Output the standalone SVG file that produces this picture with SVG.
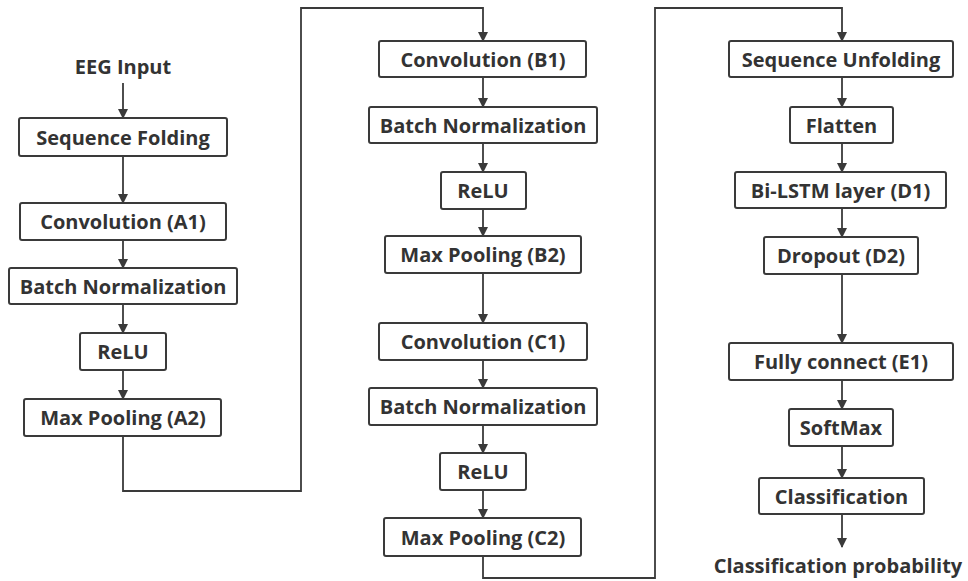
<svg xmlns="http://www.w3.org/2000/svg" width="968" height="581" viewBox="0 0 968 581">
  <style>
    .box { fill: #ffffff; stroke: #3a3a3a; stroke-width: 2; }
    .lbl { font-family: "Open Sans", "Noto Sans", "DejaVu Sans", sans-serif; font-weight: 700; font-size: 20px; fill: #333333; text-anchor: middle; dominant-baseline: central; }
    .wire { fill: none; stroke: #3a3a3a; stroke-width: 1.8; }
  </style>
  <defs>
    <marker id="arrow" markerUnits="userSpaceOnUse" markerWidth="10" markerHeight="12" refX="9" refY="5" orient="auto">
      <path d="M0,0 L10,5 L0,10 Z" fill="#3a3a3a"/>
    </marker>
  </defs>
  <rect width="968" height="581" fill="#ffffff"/>

  <!-- connectors -->
  <g id="connectors">
    <line class="wire" x1="123" y1="83" x2="123" y2="118" marker-end="url(#arrow)"/>
    <line class="wire" x1="123" y1="156" x2="123" y2="203" marker-end="url(#arrow)"/>
    <line class="wire" x1="123" y1="240" x2="123" y2="268" marker-end="url(#arrow)"/>
    <line class="wire" x1="123" y1="304" x2="123" y2="333" marker-end="url(#arrow)"/>
    <line class="wire" x1="123" y1="370" x2="123" y2="399" marker-end="url(#arrow)"/>
    <path class="wire" d="M123,436 V491 H301 V8 H483 V41" marker-end="url(#arrow)"/>
    <line class="wire" x1="483" y1="77" x2="483" y2="107" marker-end="url(#arrow)"/>
    <line class="wire" x1="483" y1="143" x2="483" y2="172" marker-end="url(#arrow)"/>
    <line class="wire" x1="483" y1="209" x2="483" y2="236" marker-end="url(#arrow)"/>
    <line class="wire" x1="483" y1="273" x2="483" y2="323" marker-end="url(#arrow)"/>
    <line class="wire" x1="483" y1="360" x2="483" y2="388" marker-end="url(#arrow)"/>
    <line class="wire" x1="483" y1="425" x2="483" y2="453" marker-end="url(#arrow)"/>
    <line class="wire" x1="483" y1="490" x2="483" y2="518" marker-end="url(#arrow)"/>
    <path class="wire" d="M483,556 V578 H655 V8 H842 V41" marker-end="url(#arrow)"/>
    <line class="wire" x1="842" y1="77" x2="842" y2="107" marker-end="url(#arrow)"/>
    <line class="wire" x1="842" y1="143" x2="842" y2="172" marker-end="url(#arrow)"/>
    <line class="wire" x1="842" y1="208" x2="842" y2="237" marker-end="url(#arrow)"/>
    <line class="wire" x1="842" y1="274" x2="842" y2="343" marker-end="url(#arrow)"/>
    <line class="wire" x1="842" y1="380" x2="842" y2="409" marker-end="url(#arrow)"/>
    <line class="wire" x1="842" y1="446" x2="842" y2="478" marker-end="url(#arrow)"/>
    <line class="wire" x1="842" y1="514" x2="842" y2="547" marker-end="url(#arrow)"/>
  </g>

  <!-- column A -->
  <g id="eeg-input"><text class="lbl" x="123" y="66">EEG Input</text></g>
  <g id="sequence-folding"><rect class="box" x="19" y="118" width="208" height="38" rx="2"/><text class="lbl" x="123" y="137">Sequence Folding</text></g>
  <g id="conv-a1"><rect class="box" x="20" y="203" width="206" height="37" rx="2"/><text class="lbl" x="123" y="221.5">Convolution (A1)</text></g>
  <g id="bn-a"><rect class="box" x="9" y="268" width="228" height="36" rx="2"/><text class="lbl" x="123" y="286">Batch Normalization</text></g>
  <g id="relu-a"><rect class="box" x="80" y="333" width="86" height="37" rx="2"/><text class="lbl" x="123" y="351.5">ReLU</text></g>
  <g id="maxpool-a2"><rect class="box" x="24" y="399" width="197" height="37" rx="2"/><text class="lbl" x="123" y="417.5">Max Pooling (A2)</text></g>

  <!-- column B/C -->
  <g id="conv-b1"><rect class="box" x="379" y="41" width="207" height="36" rx="2"/><text class="lbl" x="483" y="59">Convolution (B1)</text></g>
  <g id="bn-b"><rect class="box" x="369" y="107" width="228" height="36" rx="2"/><text class="lbl" x="483" y="125">Batch Normalization</text></g>
  <g id="relu-b"><rect class="box" x="441" y="172" width="85" height="37" rx="2"/><text class="lbl" x="483" y="190.5">ReLU</text></g>
  <g id="maxpool-b2"><rect class="box" x="385" y="236" width="196" height="37" rx="2"/><text class="lbl" x="483" y="254.5">Max Pooling (B2)</text></g>
  <g id="conv-c1"><rect class="box" x="379" y="323" width="208" height="37" rx="2"/><text class="lbl" x="483" y="341.5">Convolution (C1)</text></g>
  <g id="bn-c"><rect class="box" x="369" y="388" width="228" height="37" rx="2"/><text class="lbl" x="483" y="406.5">Batch Normalization</text></g>
  <g id="relu-c"><rect class="box" x="440" y="453" width="86" height="37" rx="2"/><text class="lbl" x="483" y="471.5">ReLU</text></g>
  <g id="maxpool-c2"><rect class="box" x="384" y="518" width="197" height="38" rx="2"/><text class="lbl" x="483" y="537">Max Pooling (C2)</text></g>

  <!-- column D/E -->
  <g id="sequence-unfolding"><rect class="box" x="729" y="41" width="224" height="36" rx="2"/><text class="lbl" x="841" y="59">Sequence Unfolding</text></g>
  <g id="flatten"><rect class="box" x="790" y="107" width="103" height="36" rx="2"/><text class="lbl" x="841.5" y="125">Flatten</text></g>
  <g id="bilstm-d1"><rect class="box" x="735" y="172" width="211" height="36" rx="2"/><text class="lbl" x="840.5" y="190">Bi-LSTM layer (D1)</text></g>
  <g id="dropout-d2"><rect class="box" x="764" y="237" width="154" height="37" rx="2"/><text class="lbl" x="841" y="255.5">Dropout (D2)</text></g>
  <g id="fc-e1"><rect class="box" x="729" y="343" width="224" height="37" rx="2"/><text class="lbl" x="841" y="361.5">Fully connect (E1)</text></g>
  <g id="softmax"><rect class="box" x="789" y="409" width="104" height="37" rx="2"/><text class="lbl" x="841" y="427.5">SoftMax</text></g>
  <g id="classification"><rect class="box" x="759" y="478" width="165" height="36" rx="2"/><text class="lbl" x="841.5" y="496">Classification</text></g>
  <g id="output"><text class="lbl" x="838" y="565">Classification probability</text></g>
</svg>
